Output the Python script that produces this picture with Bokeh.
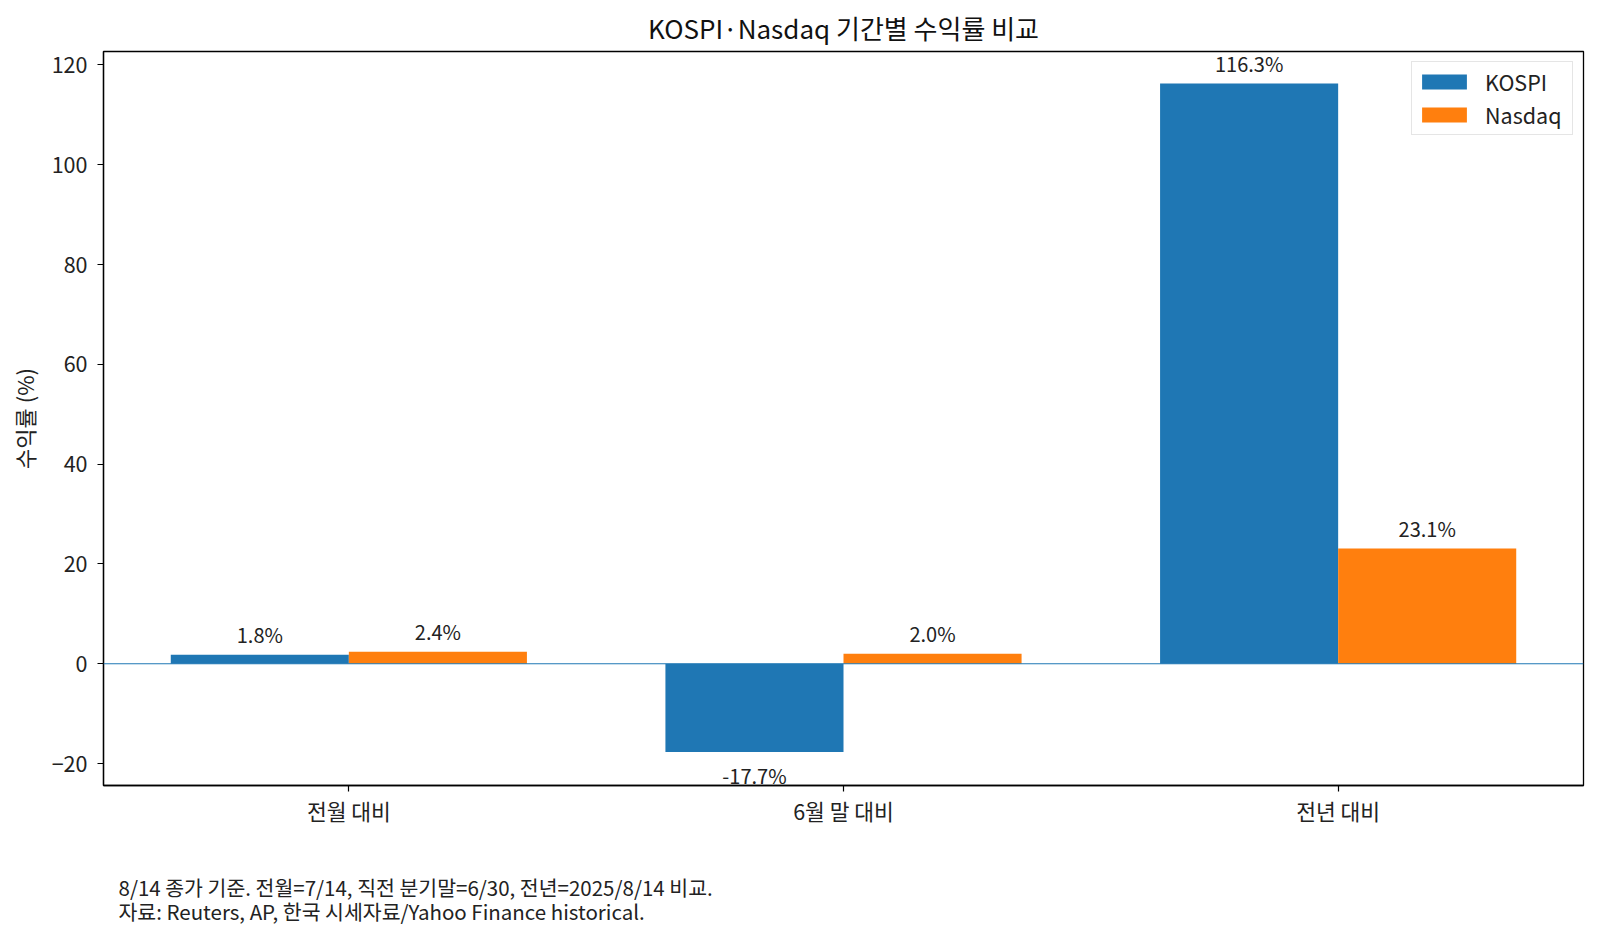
from bokeh.plotting import figure
from bokeh.models import Range1d, FixedTicker, Label, Legend, LegendItem, ColumnDataSource, Span, Title
from bokeh.embed import file_html
from bokeh.resources import INLINE

categories = ["전월 대비", "6월 말 대비", "전년 대비"]
kospi = [1.8, -17.7, 116.3]
nasdaq = [2.4, 2.0, 23.1]
y_ticks = [-20, 0, 20, 40, 60, 80, 100, 120]
title_text = "KOSPI·Nasdaq 기간별 수익률 비교"
y_label = "수익률 (%)"
note_lines = ["8/14 종가 기준. 전월=7/14, 직전 분기말=6/30, 전년=2025/8/14 비교.",
              "자료: Reuters, AP, 한국 시세자료/Yahoo Finance historical."]

FONT = "Noto Sans CJK KR"
W = 0.36
xs = list(range(len(categories)))

p = figure(width=1590, height=930, output_backend="svg", toolbar_location=None,
           x_range=Range1d(-0.496, 2.496), y_range=Range1d(-24.4, 122.7),
           min_border_left=103, min_border_right=7, min_border_top=51, min_border_bottom=145)
p.title.text = title_text
p.title.align = "center"
p.title.text_font = FONT
p.title.text_font_size = "26px"
p.title.text_font_style = "normal"
p.title.text_color = "#111111"
p.title.standoff = 12

p.xgrid.visible = False
p.ygrid.visible = False
p.outline_line_color = "black"
p.outline_line_width = 1.3
p.outline_line_alpha = 1

src_k = ColumnDataSource(dict(x=[x - W / 2 for x in xs], top=kospi))
src_n = ColumnDataSource(dict(x=[x + W / 2 for x in xs], top=nasdaq))
rk = p.vbar(x="x", top="top", bottom=0, width=W, source=src_k, fill_color="#1f77b4", line_color=None)
rn = p.vbar(x="x", top="top", bottom=0, width=W, source=src_n, fill_color="#ff7f0e", line_color=None)

p.add_layout(Span(location=0, dimension="width", line_color="#1f77b4", line_width=1.1))

for src_x, vals in ((src_k.data["x"], kospi), (src_n.data["x"], nasdaq)):
    for x, v in zip(src_x, vals):
        p.add_layout(Label(x=x, y=v, text=f"{v:.1f}%", text_align="center", text_baseline="middle",
                           y_offset=20 if v >= 0 else -23, text_font=FONT, text_font_size="20px",
                           text_color="#222222"))

for ax in (p.xaxis[0], p.yaxis[0]):
    ax.major_label_text_font = FONT
    ax.major_label_text_font_size = "21.5px"
    ax.major_label_text_color = "#222222"
    ax.axis_line_color = "black"
    ax.axis_line_width = 1.3
    ax.major_tick_line_color = "black"
    ax.major_tick_line_width = 1.2
    ax.major_tick_out = 6
    ax.major_tick_in = 0
    ax.minor_tick_line_color = None

p.xaxis.ticker = FixedTicker(ticks=xs)
p.xaxis.major_label_overrides = {i: c for i, c in enumerate(categories)}
p.xaxis.major_label_standoff = 3
p.yaxis.ticker = FixedTicker(ticks=y_ticks)
p.yaxis.major_label_standoff = 10
p.yaxis.axis_label = y_label
p.yaxis.axis_label_text_font = FONT
p.yaxis.axis_label_text_font_size = "22px"
p.yaxis.axis_label_text_font_style = "normal"
p.yaxis.axis_label_text_color = "#222222"
p.yaxis.axis_label_standoff = 9

legend = Legend(items=[LegendItem(label="KOSPI", renderers=[rk]),
                       LegendItem(label="Nasdaq", renderers=[rn])],
                location="top_right", label_text_font=FONT, label_text_font_size="21.5px",
                label_text_color="#222222", glyph_width=56, glyph_height=19, label_height=20,
                label_width=83,
                border_line_color="#cccccc", border_line_width=1.2, background_fill_alpha=0.9,
                margin=10, padding=4, spacing=2, label_standoff=13)
p.add_layout(legend)

p.add_layout(Title(text=" ", text_font=FONT, text_font_size="27px", standoff=0), "below")
for i, line in enumerate(note_lines):
    p.add_layout(Title(text=line, align="left", offset=15, standoff=0 if i == 0 else -15,
                       text_font=FONT, text_font_size="20.5px", text_font_style="normal",
                       text_color="#222222"),
                 "below")

open("out.html", "w").write(file_html(p, INLINE))
